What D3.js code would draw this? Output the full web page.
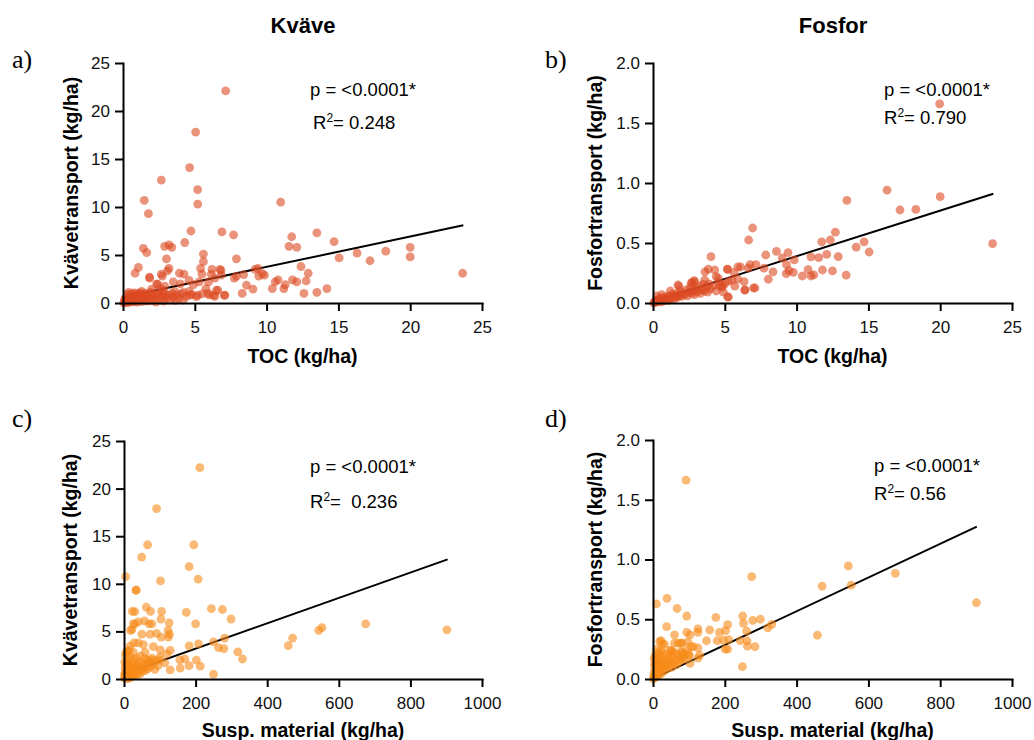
<!DOCTYPE html>
<html>
<head>
<meta charset="utf-8">
<script src="https://cdn.jsdelivr.net/npm/d3@7"></script>
<style>
  body { margin: 0; background: #fff; }
  svg { font-family: "Liberation Sans", Arial, Helvetica, sans-serif; }
</style>
</head>
<body>
<div id="chart"></div>
<script>
// ---- data ----
const tocKvave = [
  [7.15,22.1],[5.06,17.8],[4.64,14.1],[2.67,12.8],[5.2,11.8],[5.2,10.3],[1.48,10.7],[1.77,9.3],[10.98,10.5],
  [4.73,7.5],[6.89,7.4],[7.7,7.1],[13.5,7.3],[11.75,6.9],[11.56,5.9],[12.1,5.8],[14.7,6.4],[16.3,5.2],[18.3,5.4],
  [20.0,5.8],[20.0,4.8],[15.05,4.7],[17.2,4.4],[23.65,3.1],
  [1.42,5.7],[1.65,5.25],[2.9,5.9],[3.2,6.05],[3.4,5.8],[4.3,6.3],[5.6,5.1],[5.6,4.3],[3.03,4.6],[7.9,4.6],
  [0.84,3.1],[1.07,3.7],[1.84,2.7],[2.67,3.0],[2.74,2.8],[3.2,3.6],[3.1,3.35],[3.93,3.1],[4.25,3.0],[5.4,3.6],
  [5.5,3.0],[6.15,3.0],[6.2,3.5],[6.75,3.5],[6.82,3.4],[7.75,2.6],[7.9,2.8],[8.4,2.95],[9.2,3.5],[9.45,2.8],
  [9.7,3.05],[9.85,2.9],[9.4,3.6],[12.4,3.8],[12.9,3.1],
  [10.8,2.4],[10.6,2.2],[10.4,1.5],[11.8,2.4],[12.1,2.2],[12.75,2.3],[11.2,1.5],[11.3,1.9],[8.6,1.85],[9.05,1.45],
  [8.3,1.0],[12.6,1.0],[13.5,1.1],[14.2,1.5],
  [7.05,0.8],[6.5,1.3],[6.3,0.8],[5.95,2.2],[5.78,1.5],[5.2,0.8],[4.6,1.2],[4.6,2.35],[4.0,2.0],[4.2,1.1],
  [3.5,2.2],[2.9,1.75],[2.35,2.0],[2.6,1.5],[2.0,1.45],[1.86,2.6],[2.4,1.95],[4.9,1.9],[5.3,2.2],[6.4,2.6],
  [6.85,2.9],[6.6,1.35],[7.1,0.83],[6.4,0.7],[5.9,1.0],[5.1,0.66],[4.65,0.83],
  [0.05,0.02],[0.1,0.15],[0.12,0.4],[0.18,0.08],[0.2,0.6],[0.25,0.25],[0.3,0.9],[0.32,0.05],[0.38,0.45],[0.4,1.1],
  [0.45,0.2],[0.5,0.7],[0.55,0.1],[0.6,0.95],[0.62,0.35],[0.7,0.55],[0.75,1.05],[0.8,0.15],[0.85,0.8],[0.9,0.4],
  [0.95,1.0],[1.0,0.1],[1.05,0.6],[1.1,0.9],[1.15,0.3],[1.2,1.05],[1.3,0.5],[1.35,0.15],[1.4,0.85],[1.5,0.35],
  [1.55,1.0],[1.6,0.6],[1.7,0.2],[1.75,0.9],[1.85,0.45],[1.9,1.1],[2.0,0.25],[2.05,0.75],[2.15,0.95],[2.2,0.4],
  [2.3,0.1],[2.4,0.85],[2.5,0.55],[2.55,1.05],[2.65,0.3],[2.75,0.75],[2.85,0.2],[2.95,0.95],[3.05,0.5],[3.15,0.8],
  [3.3,0.3],[3.4,1.0],[3.5,0.6],[3.65,0.25],[3.75,0.85],[3.9,0.45],[4.05,0.95],[4.2,0.3],[4.4,0.7],[4.8,0.9],
  [5.5,0.95],[6.0,0.85],[3.6,1.2],[2.8,1.3],[1.3,1.2]
];

const tocFosfor = [
  [19.96,1.66],[16.3,0.94],[20.0,0.886],[13.5,0.856],[17.2,0.775],[18.3,0.78],[23.65,0.494],[12.7,0.59],
  [11.75,0.51],[12.35,0.525],[14.7,0.51],[14.15,0.465],[15.05,0.425],[6.94,0.625],[6.66,0.525],[4.04,0.386],
  [3.85,0.283],[5.18,0.283],[6.1,0.30],[6.64,0.29],[6.76,0.32],[7.17,0.32],[7.85,0.40],[8.6,0.43],[9.4,0.42],
  [9.0,0.375],[9.84,0.36],[7.73,0.29],[8.36,0.26],[8.03,0.198],[9.3,0.32],[9.28,0.245],[9.47,0.27],[9.77,0.255],
  [10.4,0.225],[10.8,0.278],[11.2,0.234],[11.0,0.385],[11.54,0.378],[11.8,0.275],[12.1,0.405],[12.5,0.267],
  [12.9,0.386],[13.45,0.233],[11.0,0.225],[5.64,0.252],[6.4,0.108],[7.0,0.125],[5.25,0.183],[5.9,0.2],
  [6.34,0.178],[4.83,0.148],[4.55,0.205],[3.62,0.26],[2.86,0.186],[2.7,0.17],[4.3,0.275],[5.25,0.05],[4.9,0.09],
  [2.9,0.178],[1.74,0.15],[2.67,0.165],[3.6,0.19],[4.4,0.22],[5.2,0.28],[5.9,0.30],[4.65,0.14],[5.7,0.14],
  [6.4,0.11],[7.1,0.125],[5.2,0.05],
  [0.05,0.0],[0.1,0.01],[0.15,0.005],[0.2,0.02],[0.3,0.01],[0.35,0.03],[0.4,0.015],[0.5,0.025],[0.55,0.04],
  [0.6,0.01],[0.7,0.035],[0.75,0.02],[0.8,0.05],[0.9,0.03],[1.0,0.045],[1.05,0.02],[1.1,0.06],[1.2,0.035],
  [1.3,0.05],[1.35,0.075],[1.4,0.03],[1.5,0.06],[1.6,0.045],[1.7,0.08],[1.75,0.05],[1.85,0.065],[1.9,0.1],
  [2.0,0.055],[2.1,0.085],[2.2,0.07],[2.3,0.11],[2.4,0.06],[2.5,0.09],[2.6,0.13],[2.7,0.08],[2.8,0.105],
  [2.9,0.07],[3.0,0.12],[3.1,0.095],[3.2,0.14],[3.3,0.08],[3.4,0.11],[3.5,0.155],[3.6,0.1],[3.7,0.13],
  [3.8,0.09],[3.9,0.16],[4.0,0.12],[4.2,0.145],[4.4,0.1],[4.6,0.17],[4.8,0.13],[5.0,0.16],[5.5,0.19],
  [0.25,0.06],[0.6,0.07],[1.2,0.1],[1.8,0.14]
];

const suspKvave = [
  [212,22.2],[91,17.9],[66,14.1],[195,14.1],[49.5,12.8],[182,11.8],[4.6,10.75],[102,10.3],[207,10.5],[33.5,9.3],
  [62.4,7.56],[23.3,7.1],[105,7.1],[174,7.0],[244,7.4],[275,7.3],[299,6.3],[57,6.1],[70,5.8],[78,5.8],[103,6.3],
  [126,5.9],[26,5.8],[200,5.8],[50,4.7],[91,4.8],[123,5.1],[127,4.7],[124,4.4],[18.6,5.1],[182,3.47],[208,3.7],
  [250,3.9],[281,4.3],[264,3.3],[279,3.2],[318,2.85],[331,2.1],[459,3.5],[471,4.3],[544,5.1],[553,5.4],[675,5.8],
  [902,5.15],[250,0.5],[213,1.35],[182,1.4],[157,1.15],[129,0.95],[202,1.99],[170,2.1],[129,3.0],[120,2.63],
  [101,3.05],[99,2.0],[82,3.4],[77,2.0],[54,3.6],[40,3.8],[28,3.8],[17,3.45],[6,2.8],[26,2.8],[59,2.8],[65,2.0],
  [114,1.7],[156,2.0],[31,5.8],[22,5.2],[40,6.0],[73,4.7],[104,4.4],[74,7.1],[30,7.07],[34,9.35],
  [1,0.1],[2,0.5],[3,1.2],[4,0.2],[5,0.8],[6,1.6],[7,0.05],[8,0.4],[9,1.0],[10,2.0],[11,0.3],[12,0.7],[13,1.4],
  [14,0.1],[15,0.9],[16,2.3],[17,0.5],[18,1.1],[19,0.2],[20,1.7],[22,0.6],[23,1.2],[25,0.3],[26,2.0],[28,0.9],
  [30,1.5],[32,0.4],[34,2.2],[36,1.0],[38,0.6],[40,1.8],[42,1.3],[44,0.5],[46,2.4],[48,1.0],[50,1.6],[52,0.8],
  [55,1.3],[58,2.1],[60,0.9],[63,1.5],[66,1.1],[70,1.8],[74,1.3],[78,2.2],[82,1.6],[86,1.0],[90,1.9],[95,1.4],
  [100,2.3],[3,0.6],[5,0.3],[8,1.3],[12,0.15],[15,0.5],[20,0.8],[25,1.0],[30,0.7],[35,1.4],[2,1.8],[4,2.5],
  [10,2.9],[14,3.0]
];

const suspFosfor = [
  [92,1.665],[544,0.946],[675,0.884],[275,0.856],[471,0.778],[552,0.785],[901,0.638],[458,0.366],[9.3,0.628],
  [39,0.675],[67,0.59],[94,0.527],[38,0.438],[175,0.516],[250,0.527],[252,0.466],[278,0.49],[299,0.5],[320,0.428],
  [331,0.457],[208,0.455],[158,0.41],[185,0.39],[202,0.405],[196,0.325],[208,0.25],[201,0.25],[261,0.4],
  [243,0.32],[262,0.32],[263,0.275],[284,0.27],[249,0.103],[211,0.33],[179,0.32],[149,0.32],[125,0.42],
  [125,0.39],[94,0.39],[103,0.37],[70,0.3],[60,0.37],[19,0.315],[26,0.29],[53,0.23],[81,0.3],[112,0.27],
  [130,0.2],[103,0.13],[80,0.16],[22.6,0.32],[32,0.29],[60,0.30],[78,0.30],[97,0.31],[106,0.27],[125,0.26],
  [22,0.24],[50,0.24],[78,0.23],[101,0.2],[125,0.175],
  [1,0.0],[2,0.02],[3,0.05],[4,0.01],[5,0.08],[6,0.03],[7,0.12],[8,0.05],[9,0.02],[10,0.09],[11,0.15],
  [12,0.04],[13,0.07],[14,0.18],[15,0.1],[16,0.03],[17,0.13],[18,0.06],[20,0.2],[21,0.09],[22,0.12],[24,0.05],
  [25,0.16],[27,0.1],[28,0.22],[30,0.13],[32,0.07],[34,0.17],[36,0.11],[38,0.2],[40,0.14],[42,0.09],[44,0.18],
  [46,0.12],[48,0.24],[50,0.15],[53,0.1],[55,0.19],[58,0.13],[60,0.22],[63,0.16],[66,0.12],[70,0.2],[74,0.15],
  [78,0.18],[82,0.22],[86,0.17],[90,0.21],[95,0.24],[100,0.2],[3,0.17],[6,0.2],[10,0.25],[15,0.22],[4,0.12],[8,0.16]
];

// regression lines: [x start, x end, intercept, slope]
const fitTocKvave = [0, 23.7, 0.6, 0.316];
const fitTocFosfor = [0, 23.7, 0.01, 0.038];
const fitSuspKvave = [0, 904, 0.52, 0.01333];
const fitSuspFosfor = [0, 902, 0.003, 0.00141];

const pTexts = ["p = <0.0001*", "p = <0.0001*", "p = <0.0001*", "p = <0.0001*"];
const r2Texts = ["= 0.248", "= 0.790", "=\u00a0 0.236", "= 0.56"];

const tocTicks = [0, 5, 10, 15, 20, 25];
const suspTicks = [0, 200, 400, 600, 800, 1000];
const kvaveTicks = [0, 5, 10, 15, 20, 25];
const fosforTicks = [0, 0.5, 1.0, 1.5, 2.0];

const columnTitles = ["Kväve", "Fosfor"];

// ---- layout ----
const width = 1034, height = 740;
const red = "#dc4a22", orange = "#f68a18";

const panels = [
  {tag: "a)", data: tocKvave, fit: fitTocKvave, xt: tocTicks, yt: kvaveTicks, yf: d3.format("d"),
   xl: "TOC (kg/ha)", yl: "Kvävetransport (kg/ha)", col: red,
   left: 123, right: 482, top: 63, bottom: 303, tagX: 12, tagY: 68, ylX: 78, xlY: 363,
   pX: 310, pY: 96, rX: 313, rY: 129, i: 0},
  {tag: "b)", data: tocFosfor, fit: fitTocFosfor, xt: tocTicks, yt: fosforTicks, yf: d3.format(".1f"),
   xl: "TOC (kg/ha)", yl: "Fosfortransport (kg/ha)", col: red,
   left: 653, right: 1012, top: 63, bottom: 303, tagX: 545, tagY: 68, ylX: 602, xlY: 363,
   pX: 884, pY: 96, rX: 884, rY: 124, i: 1},
  {tag: "c)", data: suspKvave, fit: fitSuspKvave, xt: suspTicks, yt: kvaveTicks, yf: d3.format("d"),
   xl: "Susp. material (kg/ha)", yl: "Kvävetransport (kg/ha)", col: orange,
   left: 124, right: 482, top: 441, bottom: 679, tagX: 12, tagY: 427, ylX: 77, xlY: 737,
   pX: 310, pY: 473, rX: 310, rY: 508, i: 2},
  {tag: "d)", data: suspFosfor, fit: fitSuspFosfor, xt: suspTicks, yt: fosforTicks, yf: d3.format(".1f"),
   xl: "Susp. material (kg/ha)", yl: "Fosfortransport (kg/ha)", col: orange,
   left: 653, right: 1012, top: 440, bottom: 679, tagX: 545, tagY: 427, ylX: 602, xlY: 737,
   pX: 874, pY: 472, rX: 874, rY: 500, i: 3}
];

const svg = d3.select("#chart").append("svg")
  .attr("width", width)
  .attr("height", height);

// column titles
svg.selectAll(".coltitle")
  .data(columnTitles)
  .enter().append("text")
    .attr("x", (d, i) => i === 0 ? 303 : 833)
    .attr("y", 33)
    .attr("text-anchor", "middle")
    .style("font-size", "22px")
    .style("font-weight", "bold")
    .text(d => d);

panels.forEach(function(p) {
  const x = d3.scaleLinear()
    .domain([0, d3.max(p.xt)])
    .range([p.left, p.right]);
  const y = d3.scaleLinear()
    .domain([0, d3.max(p.yt)])
    .range([p.bottom, p.top]);

  const g = svg.append("g");

  // regression line (under the dots)
  g.append("line")
    .attr("x1", x(p.fit[0]))
    .attr("y1", y(p.fit[2] + p.fit[3] * p.fit[0]))
    .attr("x2", x(p.fit[1]))
    .attr("y2", y(p.fit[2] + p.fit[3] * p.fit[1]))
    .attr("stroke", "#000")
    .attr("stroke-width", 2);

  // points
  g.append("g")
    .selectAll("circle")
    .data(p.data)
    .enter()
    .append("circle")
      .attr("cx", d => x(d[0]))
      .attr("cy", d => y(d[1]))
      .attr("r", 4.4)
      .attr("fill", p.col)
      .attr("fill-opacity", 0.6);

  // axes
  const xAxis = g.append("g")
    .attr("transform", "translate(0," + p.bottom + ")")
    .call(d3.axisBottom(x).tickValues(p.xt).tickFormat(d3.format("d"))
      .tickSize(8).tickSizeOuter(0).tickPadding(10));
  const yAxis = g.append("g")
    .attr("transform", "translate(" + p.left + ",0)")
    .call(d3.axisLeft(y).tickValues(p.yt).tickFormat(p.yf).tickSize(8).tickSizeOuter(0).tickPadding(5));

  [xAxis, yAxis].forEach(function(a) {
    a.select(".domain").attr("stroke", "#000").attr("stroke-width", 2).attr("stroke-linecap", "square");
    a.selectAll(".tick line").attr("stroke", "#000").attr("stroke-width", 2);
    a.selectAll(".tick text")
      .attr("fill", "#111")
      .style("font-family", "'Liberation Sans', Arial, sans-serif")
      .style("font-size", "17px");
  });

  // axis titles
  g.append("text")
    .attr("x", (p.left + p.right) / 2)
    .attr("y", p.xlY)
    .attr("text-anchor", "middle")
    .style("font-size", "19.5px")
    .style("font-weight", "bold")
    .text(p.xl);

  g.append("text")
    .attr("transform", "translate(" + p.ylX + "," + (p.top + p.bottom) / 2 + ") rotate(-90)")
    .attr("text-anchor", "middle")
    .style("font-size", "19.5px")
    .style("font-weight", "bold")
    .text(p.yl);

  // panel tag
  g.append("text")
    .attr("x", p.tagX)
    .attr("y", p.tagY)
    .style("font-family", "'Liberation Serif', 'Times New Roman', serif")
    .style("font-size", "26px")
    .text(p.tag);

  // statistics
  g.append("text")
    .attr("x", p.pX)
    .attr("y", p.pY)
    .style("font-size", "18.5px")
    .text(pTexts[p.i]);

  const r2 = g.append("text")
    .attr("x", p.rX)
    .attr("y", p.rY)
    .style("font-size", "18.5px");
  r2.append("tspan").text("R");
  r2.append("tspan").attr("dy", -7).style("font-size", "12px").text("2");
  r2.append("tspan").attr("dy", 7).text(r2Texts[p.i]);
});
</script>
</body>
</html>
